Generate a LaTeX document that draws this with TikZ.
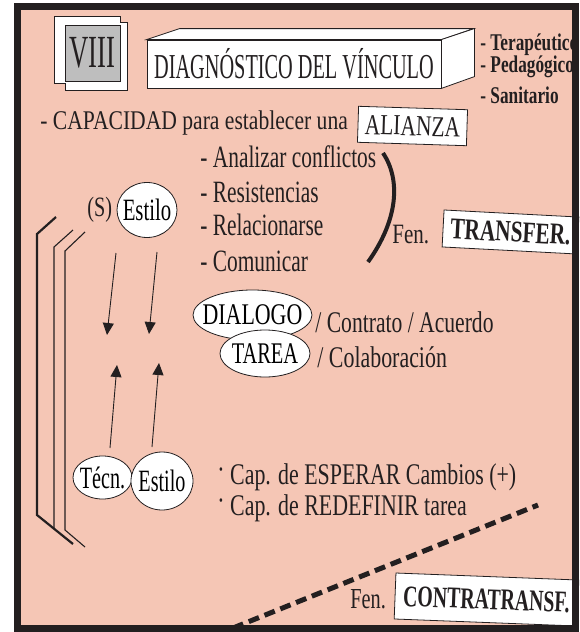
\documentclass[tikz,border=0pt]{standalone}
\usepackage{graphicx}
\usepackage{fontspec}
\setmainfont{Liberation Serif}
\usetikzlibrary{
    positioning,
    arrows.meta,
    shapes.geometric
}
\definecolor{Salmon}{RGB}{245,198,181}
\definecolor{Ink}{RGB}{35,31,32}
\definecolor{BoxGrey}{RGB}{190,190,190}
\newcommand{\cond}[2]{\scalebox{#1}[1]{#2}}
\newcommand{\fsz}[1]{\fontsize{#1}{#1}\selectfont}

\begin{document}
\begin{tikzpicture}[
            x=1pt, y=-1pt,
            line width=0.8pt,
            txt/.style={inner sep=0pt, anchor=base west, text=Ink},
            bub/.style={ellipse, draw=Ink, fill=white, inner sep=0pt},
            tag/.style={draw=Ink, fill=white, inner sep=0pt, text=Ink},
            flecha/.style={-{Triangle[length=12pt,width=11pt]}, draw=Ink, line width=0.9pt},
        ]
        \useasboundingbox (0,0) rectangle (579,632);
        \fill[white] (0,0) rectangle (579,632);

        % Frame
        \def\frL{17.5}
        \def\frT{6.5}
        \def\frR{575}
        \def\frB{628.5}
        \fill[Salmon] (\frL,\frT) rectangle (\frR,\frB);

        % Chapter badge
        \draw[Ink, fill=white, line width=0.6pt] (54,16) -- (120,16) -- (120,22) -- (127,22) -- (127,90) -- (65,90) -- (65,83) -- (54,83) -- cycle;
        \node[tag, fill=BoxGrey, minimum width=55pt, minimum height=56pt] (viii) at (92.5,53) {\fsz{46}\cond{0.58}{VIII}};

        % Title block (3D)
        \node[tag, minimum width=294pt, minimum height=48pt] (titulo) at (294,64) {\fsz{35}\cond{0.58}{DIAGNÓSTICO DEL VÍNCULO}};
        \draw[Ink, fill=white] (titulo.north west) -- ++(33,-11) -- ++(294,0) -- (titulo.north east) -- cycle;
        \draw[Ink, fill=white] (titulo.north east) -- ++(33,-11) -- ++(0,48) -- (titulo.south east) -- cycle;

        % Kinds of bond
        \node[txt] (terap) at (480,50) {\bfseries\fsz{24}\cond{0.72}{- Terapéutico}};
        \node[txt] (pedag) at (480,72) {\bfseries\fsz{24}\cond{0.72}{- Pedagógico}};
        \node[txt] (sanit) at (480,103) {\bfseries\fsz{24}\cond{0.72}{- Sanitario}};

        % Alliance
        \node[txt] (capac) at (40,129) {\fsz{27}\cond{0.80}{- CAPACIDAD para establecer una}};
        \node[tag, rotate=-1.8, minimum width=109pt, minimum height=36pt] (alianza) at (412.5,126) {\fsz{29}\cond{0.74}{ALIANZA}};

        \node[txt] (analizar) at (200,167) {\fsz{31}\cond{0.69}{- Analizar conflictos}};
        \node[txt] (resist) at (200,202) {\fsz{31}\cond{0.69}{- Resistencias}};
        \node[txt] (relac) at (200,235) {\fsz{31}\cond{0.69}{- Relacionarse}};
        \node[txt] (comunic) at (200,271) {\fsz{31}\cond{0.69}{- Comunicar}};

        % Transference
        \draw[Ink, line width=4pt] (383,153) .. controls (401,180) and (398,220) .. (368,262);
        \node[txt] (fen1) at (392,243) {\fsz{28}\cond{0.75}{Fen.}};
        \node[tag, rotate=-3, minimum width=135pt, minimum height=37pt] (transfer) at (510.5,232) {\bfseries\fsz{30}\cond{0.71}{TRANSFER.}};

        % Left brackets
        \draw[Ink, line width=2.2pt] (56,217) -- (37,234) -- (37,515) -- (73,544);
        \draw[Ink, line width=1.1pt] (73,230) -- (54,247) -- (54,529);
        \draw[Ink, line width=1.1pt] (85,232) -- (65,251) -- (65,530) -- (85,547);

        % Top: style of the subject
        \node[txt] (sparen) at (87,216) {\fsz{28}\cond{0.72}{(S)}};
        \node[bub, minimum width=60pt, minimum height=55pt,
              label={center:{\fsz{31}\cond{0.67}{Estilo}}}] (estiloA) at (147,210) {};

        % Arrows
        \coordinate (d1a) at (116,253);
        \coordinate (d1b) at (107,335);
        \coordinate (d2a) at (157,252);
        \coordinate (d2b) at (149,334);
        \coordinate (u1a) at (110,448);
        \coordinate (u1b) at (117,365);
        \coordinate (u2a) at (152,447);
        \coordinate (u2b) at (159,363);
        \draw[flecha] (d1a) -- (d1b);
        \draw[flecha] (d2a) -- (d2b);
        \draw[flecha] (u1a) -- (u1b);
        \draw[flecha] (u2a) -- (u2b);

        % Dialogue and task
        \node[bub, minimum width=119pt, minimum height=50pt,
              label={center:{\fsz{30}\cond{0.73}{DIALOGO}}}] (dialogo) at (252.5,315) {};
        \node[bub, minimum width=90pt, minimum height=47pt,
              label={center:{\fsz{30}\cond{0.68}{TAREA}}}] (tarea) at (265,353.5) {};
        \node[txt] (contrato) at (315,332) {\fsz{30}\cond{0.72}{/ Contrato / Acuerdo}};
        \node[txt] (colab) at (317,367) {\fsz{30}\cond{0.73}{/ Colaboración}};

        % Bottom: technique and style
        \node[bub, minimum width=59pt, minimum height=43pt,
              label={center:{\fsz{31}\cond{0.65}{Técn.}}}] (tecn) at (102.5,477.5) {};
        \node[bub, minimum width=62pt, minimum height=58pt,
              label={center:{\fsz{31}\cond{0.65}{Estilo}}}] (estiloB) at (162,481) {};

        \node[txt] (esperar) at (217,484) {\fsz{30}\cond{0.73}{\raisebox{.15em}{·} Cap. de ESPERAR Cambios (+)}};
        \node[txt] (redef) at (217,515) {\fsz{30}\cond{0.73}{\raisebox{.15em}{·} Cap. de REDEFINIR tarea}};

        % Countertransference
        \draw[Ink, line width=5pt, dash pattern=on 11pt off 6pt] (233,628) -- (538,505);
        \node[txt] (fen2) at (350,608) {\fsz{29}\cond{0.70}{Fen.}};
        \node[tag, rotate=-2.2, minimum width=183pt, minimum height=46pt] (contra) at (486.5,599.5) {\bfseries\fsz{30}\cond{0.66}{CONTRATRANSF.}};

        % Frame border on top
        \draw[Ink, line width=7pt] (\frL,\frT) rectangle (\frR,\frB);
\end{tikzpicture}
\end{document}
